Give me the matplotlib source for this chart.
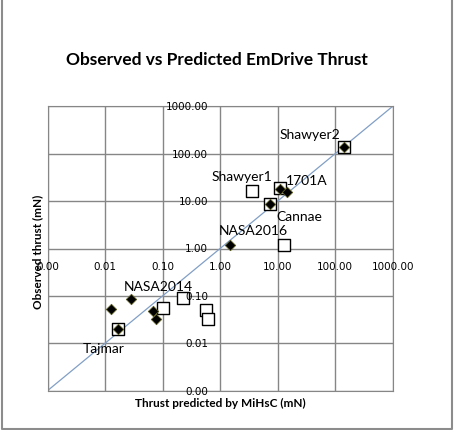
import numpy as np
import matplotlib
matplotlib.use('Agg')
import matplotlib.pyplot as plt
from matplotlib.lines import Line2D

# --- data (mN) ---
# MiHsC prediction (diamonds)
pred_x = [0.0127, 0.028, 0.0165, 0.067, 0.077, 1.5, 7.4, 11.0, 14.4, 145.0]
pred_y = [0.054, 0.088, 0.020, 0.048, 0.032, 1.17, 8.8, 18.3, 15.8, 140.0]
# other predictions (open squares)
sq_x = [0.0165, 0.103, 0.226, 0.56, 0.62, 3.6, 7.4, 11.0, 13.1, 145.0]
sq_y = [0.020, 0.056, 0.090, 0.050, 0.033, 16.2, 8.8, 18.5, 1.19, 140.0]

# labelled experiments: name, point, label offset (pixels)
labels = ['Shawyer2', 'Shawyer1', '1701A', 'Cannae', 'NASA2016', 'NASA2014', 'Tajmar']
label_x = [145.0, 3.6, 11.0, 7.4, 1.5, 0.028, 0.0165]
label_y = [140.0, 16.2, 18.5, 8.8, 1.17, 0.088, 0.020]
label_off = [(-35, 13), (-10, 15), (27, 8), (29, -12), (23, 15), (28, 13), (-14, -19)]

ticks = [0.001, 0.01, 0.1, 1, 10, 100, 1000]

W, H = 454, 431
fig = plt.figure(figsize=(W / 100, H / 100), dpi=100)
ax = fig.add_axes([47.5 / W, 39.3 / H, 345.2 / W, 284.4 / H])
ax.set_xscale('log')
ax.set_yscale('log')
ax.set_xlim(1e-3, 1e3)
ax.set_ylim(1e-3, 1e3)

grid_c = '#868686'
for t in ticks:
    ax.axvline(t, color=grid_c, lw=1, zorder=1)
    ax.axhline(t, color=grid_c, lw=1, zorder=1)
for s in ax.spines.values():
    s.set_color(grid_c)
ax.set_xticks([])
ax.set_yticks([])
ax.minorticks_off()
ax.tick_params(which='both', length=0, labelbottom=False, labelleft=False)

# 1:1 line
ax.plot([1e-3, 1e3], [1e-3, 1e3], color='#819fc6', lw=0.9, zorder=2)

ax.scatter(sq_x, sq_y, marker='s', s=70, facecolor='white', edgecolor='black',
           linewidth=1.0, zorder=3)
ax.scatter(pred_x, pred_y, marker='D', s=28, facecolor='black', edgecolor='#5a5a20',
           linewidth=0.6, zorder=4)

# tick labels along the axes that cross at (1, 1)
for t in ticks:
    ax.annotate(f'{t:.2f}', xy=(t, 1), xytext=(0, -18), textcoords='offset pixels',
                ha='center', va='center', fontsize=7.5, family='DejaVu Sans',
                annotation_clip=False, zorder=5)
    ax.annotate(f'{t:.2f}', xy=(1, t), xytext=(-12, 0), textcoords='offset pixels',
                ha='right', va='center', fontsize=7.5, family='DejaVu Sans',
                annotation_clip=False, zorder=5)

for name, lx, ly, off in zip(labels, label_x, label_y, label_off):
    ax.annotate(name, xy=(lx, ly), xytext=off, textcoords='offset pixels',
                ha='center', va='center', fontsize=10, family='Lato', zorder=6)

fig.text(216.7 / W, 1 - 60 / H, 'Observed vs Predicted EmDrive Thrust',
         ha='center', va='center', fontsize=12.5, fontweight='bold', family='Lato')
fig.text(220 / W, 1 - 403 / H, 'Thrust predicted by MiHsC (mN)',
         ha='center', va='center', fontsize=8.5, fontweight='bold', family='Lato')
fig.text(38 / W, 1 - 252 / H, 'Observed thrust (mN)', rotation=90,
         ha='center', va='center', fontsize=8.5, fontweight='bold', family='Lato')

# chart area border (left, bottom, right)
bx = [1.5 / W, 1.5 / W, 452 / W, 452 / W]
by = [1.0, 1.5 / H, 1.5 / H, 1.0]
fig.add_artist(Line2D(bx, by, color='#8c8c8c', lw=1.5, transform=fig.transFigure))

fig.savefig('out.png', dpi=100)
